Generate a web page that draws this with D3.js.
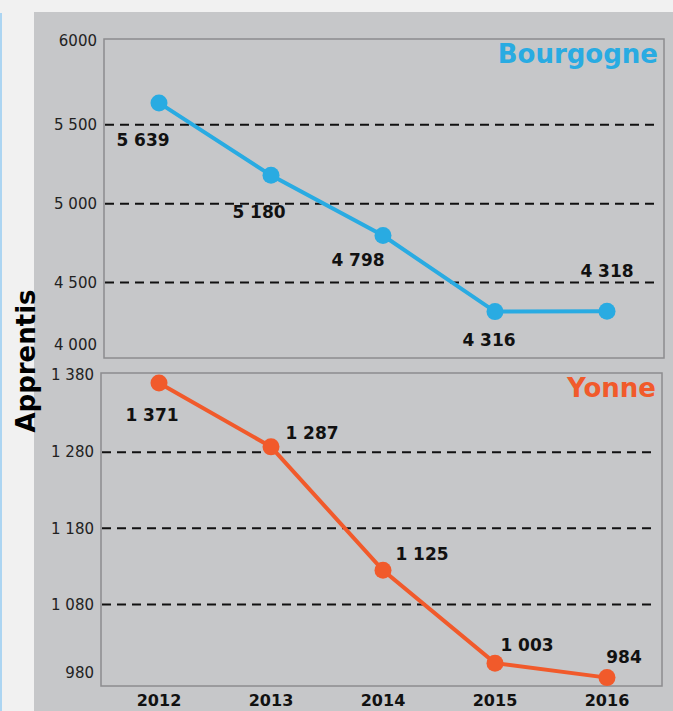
<!DOCTYPE html>
<html>
<head>
<meta charset="utf-8">
<script src="https://cdn.jsdelivr.net/npm/d3@7"></script>
<style>
  html, body { margin: 0; padding: 0; background: #f1f1f1; }
  svg { display: block; font-family: "DejaVu Sans", Verdana, sans-serif; }
</style>
</head>
<body>
<div id="chart"></div>
<script>
// Data
var years = ["2012", "2013", "2014", "2015", "2016"];
var bourgogne = [5639, 5180, 4798, 4316, 4318];
var yonne = [1371, 1287, 1125, 1003, 984];
var bourgogneTicks = [6000, 5500, 5000, 4500, 4000];
var yonneTicks = [1380, 1280, 1180, 1080, 980];
// label placement (dx, dy from the point)
var bourgogneLabelPos = [[-16, 43], [-12, 43], [-25, 30], [-6, 34], [0, -34]];
var yonneLabelPos = [[-7, 38], [41, -8], [39, -10], [32, -12], [17, -15]];

var width = 673, height = 711;
var fmt = function (v) { return d3.format(",")(v).replace(/,/g, " "); };

var svg = d3.select("#chart")
    .append("svg")
    .attr("width", width)
    .attr("height", height);

// light blue edge + grey panel
svg.append("rect").attr("x", 0).attr("y", 13).attr("width", 2).attr("height", height - 13).attr("fill", "#acd5f2");
svg.append("rect").attr("x", 34).attr("y", 12).attr("width", width - 34).attr("height", height - 12).attr("fill", "#c6c7c9");

var x = d3.scalePoint()
    .domain(years)
    .range([103, 663])
    .padding(0.5);

function panel(cfg) {
    var y = d3.scaleLinear().domain(cfg.domain).range([cfg.bottom, cfg.top]);
    var g = svg.append("g");

    // frame
    g.append("rect")
        .attr("x", cfg.left).attr("y", cfg.top)
        .attr("width", cfg.right - cfg.left).attr("height", cfg.bottom - cfg.top)
        .attr("fill", "none").attr("stroke", "#8c8c8e").attr("stroke-width", 1.5);

    // dashed grid lines (inner ticks only)
    g.selectAll(".grid")
        .data(cfg.ticks.slice(1, -1))
        .enter().append("line")
        .attr("x1", cfg.left + 1).attr("x2", cfg.right - 5)
        .attr("y1", function (d) { return y(d); })
        .attr("y2", function (d) { return y(d); })
        .attr("stroke", "#111").attr("stroke-width", 2)
        .attr("stroke-dasharray", "9,6");

    // tick labels
    g.selectAll(".tick")
        .data(cfg.ticks)
        .enter().append("text")
        .attr("x", cfg.left - 7)
        .attr("y", function (d, i) {
            if (i === 0) return cfg.top + 2;
            return Math.min(y(d), cfg.bottom - 13);
        })
        .attr("dy", "0.35em")
        .attr("text-anchor", "end")
        .attr("font-size", 15)
        .attr("fill", "#222")
        .text(function (d) { return cfg.tickFmt(d); });

    // line
    var line = d3.line()
        .x(function (d, i) { return x(years[i]); })
        .y(function (d) { return y(d); });
    g.append("path")
        .datum(cfg.values)
        .attr("d", line)
        .attr("fill", "none")
        .attr("stroke", cfg.color)
        .attr("stroke-width", 4);

    g.selectAll(".dot")
        .data(cfg.values)
        .enter().append("circle")
        .attr("cx", function (d, i) { return x(years[i]); })
        .attr("cy", function (d) { return y(d); })
        .attr("r", 8.5)
        .attr("fill", cfg.color);

    // value labels
    g.selectAll(".val")
        .data(cfg.values)
        .enter().append("text")
        .attr("x", function (d, i) { return x(years[i]) + cfg.labelPos[i][0]; })
        .attr("y", function (d, i) { return y(d) + cfg.labelPos[i][1]; })
        .attr("text-anchor", "middle")
        .attr("font-size", 17)
        .attr("font-weight", "bold")
        .attr("fill", "#111")
        .text(function (d) { return fmt(d); });

    // title
    g.append("text")
        .attr("x", cfg.right - 6)
        .attr("y", cfg.top + 24)
        .attr("text-anchor", "end")
        .attr("font-size", 26)
        .attr("font-weight", "bold")
        .attr("fill", cfg.color)
        .text(cfg.title);
}

panel({
    title: "Bourgogne", color: "#29abe2",
    values: bourgogne, ticks: bourgogneTicks, labelPos: bourgogneLabelPos,
    domain: [4022, 6044], left: 104, right: 664, top: 39, bottom: 358,
    tickFmt: function (d) { return d === 6000 ? "6000" : fmt(d); }
});

panel({
    title: "Yonne", color: "#f15a2b",
    values: yonne, ticks: yonneTicks, labelPos: yonneLabelPos,
    domain: [973, 1384], left: 101, right: 662, top: 373, bottom: 686,
    tickFmt: fmt
});

// x axis labels
svg.selectAll(".year")
    .data(years)
    .enter().append("text")
    .attr("x", function (d) { return x(d); })
    .attr("y", 706)
    .attr("text-anchor", "middle")
    .attr("font-size", 16)
    .attr("font-weight", "bold")
    .attr("fill", "#111")
    .text(function (d) { return d; });

// y axis title
svg.append("text")
    .attr("transform", "translate(35,361) rotate(-90)")
    .attr("text-anchor", "middle")
    .attr("font-size", 26)
    .attr("font-weight", "bold")
    .attr("fill", "#000")
    .text("Apprentis");
</script>
</body>
</html>
